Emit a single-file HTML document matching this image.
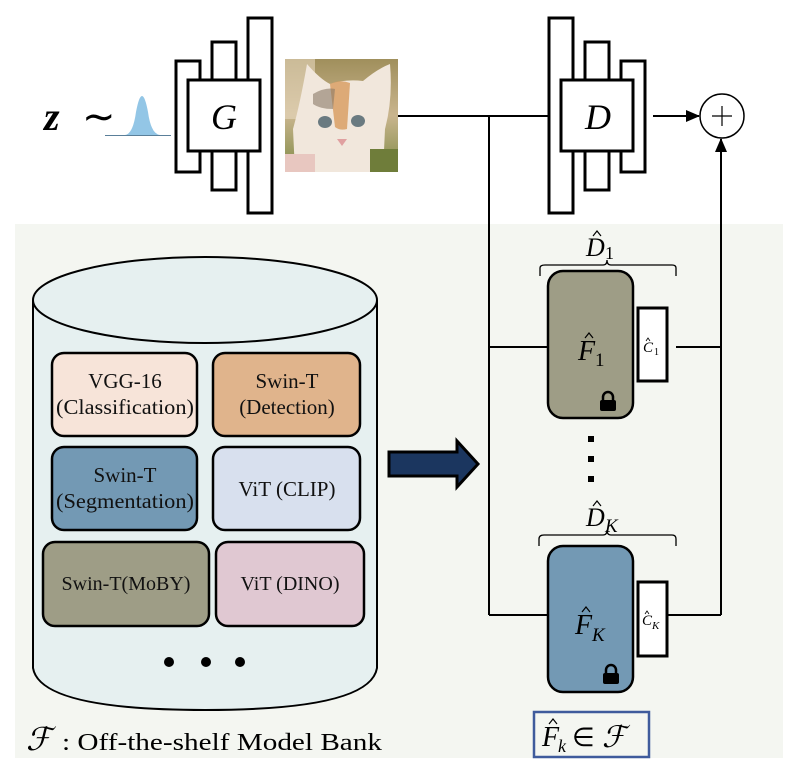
<!DOCTYPE html>
<html><head><meta charset="utf-8"><style>
html,body{margin:0;padding:0;background:#fff;}
svg{display:block}
text{font-family:"Liberation Serif",serif;}
</style></head><body>
<svg width="806" height="782" viewBox="0 0 806 782" xmlns="http://www.w3.org/2000/svg">
<defs>
<linearGradient id="bg" x1="0" y1="0" x2="0" y2="1"><stop offset="0" stop-color="#a08f5c"/><stop offset="0.5" stop-color="#c9b58e"/><stop offset="1" stop-color="#7f8a45"/></linearGradient>
<marker id="ah" markerWidth="14" markerHeight="12" refX="13" refY="6" orient="auto" markerUnits="userSpaceOnUse"><path d="M0,0 L14,6 L0,12 z" fill="#000"/></marker>
</defs>
<rect x="15" y="224" width="768" height="534" fill="#f4f6f1"/>
<text x="44" y="130" font-size="40" font-style="italic" font-weight="bold">z</text>
<text x="82" y="130" font-size="40">∼</text>
<path d="M106,135 L125,135 Q133,134 136,112 Q139,96 142,96 Q145,96 148,112 Q151,134 160,135 L170,135 Z" fill="#93c6e6"/>
<line x1="105" y1="135.5" x2="171" y2="135.5" stroke="#5a7f99" stroke-width="1"/>
<g fill="#fff" stroke="#000" stroke-width="3">
<rect x="176" y="61" width="24" height="111"/>
<rect x="212" y="42" width="24" height="148"/>
<rect x="248" y="18" width="24" height="195"/>
<rect x="188" y="80" width="72" height="71"/>
</g>
<text x="224" y="129" font-size="36" font-style="italic" text-anchor="middle">G</text>
<svg x="285" y="59" width="113" height="113" viewBox="0 0 113 113">
<rect width="113" height="113" fill="url(#bg)"/>
<rect x="0" y="0" width="30" height="60" fill="#e8d9c0" opacity="0.6"/>
<path d="M10,113 L8,70 Q15,45 22,5 Q35,20 45,25 Q60,20 78,22 Q92,10 105,5 Q108,40 100,70 L98,113 Z" fill="#f1e7dc"/>
<path d="M45,25 Q55,20 65,24 L62,70 Q55,72 50,68 Z" fill="#d89b5e" opacity="0.8"/>
<path d="M28,35 Q40,28 50,30 L48,50 Q35,50 28,45Z" fill="#8a7a68" opacity="0.6"/>
<ellipse cx="40" cy="63" rx="7" ry="6" fill="#6a7a80"/>
<ellipse cx="73" cy="62" rx="7" ry="6" fill="#6a7a80"/>
<path d="M52,80 L62,80 L57,87Z" fill="#e0a0a0"/>
<rect x="0" y="95" width="30" height="18" fill="#e8c7c0"/>
<rect x="85" y="90" width="28" height="23" fill="#6f7d3a"/>
</svg>
<g stroke="#000" stroke-width="2" fill="none">
<line x1="398" y1="116" x2="549" y2="116"/>
<line x1="489" y1="116" x2="489" y2="615"/>
<line x1="489" y1="347" x2="547" y2="347"/>
<line x1="489" y1="615" x2="547" y2="615"/>
<line x1="653" y1="116" x2="699" y2="116" marker-end="url(#ah)"/>
<line x1="721" y1="615" x2="721" y2="139" marker-end="url(#ah)"/>
<line x1="676" y1="347" x2="721" y2="347"/>
<line x1="668" y1="615" x2="721" y2="615"/>
</g>
<circle cx="722" cy="116" r="22" fill="#fff" stroke="#000" stroke-width="1.5"/>
<line x1="712" y1="116" x2="732" y2="116" stroke="#000" stroke-width="1.2"/>
<line x1="722" y1="106" x2="722" y2="126" stroke="#000" stroke-width="1.2"/>
<g fill="#fff" stroke="#000" stroke-width="3">
<rect x="621" y="61" width="24" height="111"/>
<rect x="585" y="42" width="24" height="148"/>
<rect x="549" y="18" width="24" height="195"/>
<rect x="561" y="80" width="72" height="71"/>
</g>
<text x="598" y="129" font-size="36" font-style="italic" text-anchor="middle">D</text>
<text x="586" y="256" font-size="26" font-style="italic">D</text>
<path d="M593,236 L597,231 L601,236" fill="none" stroke="#000" stroke-width="1.2"/>
<text x="605" y="259" font-size="18">1</text>
<path d="M540,276 L540,268 Q540,265 545,265 L603,265 Q607,265 607,260 Q607,265 611,265 L672,265 Q676,265 676,268 L676,276" fill="none" stroke="#000" stroke-width="1.3"/>
<rect x="548" y="271" width="85" height="147" rx="15" fill="#9e9d86" stroke="#000" stroke-width="2.5"/>
<text x="578" y="360" font-size="28" font-style="italic">F</text>
<path d="M585,338 L589,333 L593,338" fill="none" stroke="#000" stroke-width="1.2"/>
<text x="595" y="366" font-size="19">1</text>
<rect x="638" y="308" width="29" height="73" fill="#fff" stroke="#000" stroke-width="3"/>
<text x="643" y="352" font-size="15" font-style="italic">C</text>
<path d="M646,341 L648,338 L650,341" fill="none" stroke="#000" stroke-width="0.8"/>
<text x="654" y="355" font-size="10">1</text>
<g fill="#000"><path d="M603,401 v-4 a5,5 0 0 1 10,0 v4" fill="none" stroke="#000" stroke-width="2.5"/><rect x="600" y="400" width="16" height="11" rx="2"/></g>
<rect x="588" y="436" width="6" height="6" fill="#000"/>
<rect x="588" y="456" width="6" height="6" fill="#000"/>
<rect x="588" y="476" width="6" height="6" fill="#000"/>
<text x="586" y="526" font-size="26" font-style="italic">D</text>
<path d="M593,506 L597,501 L601,506" fill="none" stroke="#000" stroke-width="1.2"/>
<text x="605" y="532" font-size="19" font-style="italic">K</text>
<path d="M539,546 L539,539 Q539,535 544,535 L603,535 Q607,535 607,530 Q607,535 611,535 L672,535 Q676,535 676,539 L676,546" fill="none" stroke="#000" stroke-width="1.3"/>
<rect x="548" y="546" width="85" height="146" rx="15" fill="#7399b4" stroke="#000" stroke-width="2.5"/>
<text x="575" y="634" font-size="28" font-style="italic">F</text>
<path d="M582,612 L586,607 L590,612" fill="none" stroke="#000" stroke-width="1.2"/>
<text x="592" y="641" font-size="19" font-style="italic">K</text>
<rect x="638" y="582" width="29" height="74" fill="#fff" stroke="#000" stroke-width="3"/>
<text x="642" y="625" font-size="15" font-style="italic">C</text>
<path d="M645,614 L647,611 L649,614" fill="none" stroke="#000" stroke-width="0.8"/>
<text x="652" y="629" font-size="11" font-style="italic">K</text>
<g fill="#000"><path d="M606,674 v-4 a5,5 0 0 1 10,0 v4" fill="none" stroke="#000" stroke-width="2.5"/><rect x="603" y="673" width="16" height="11" rx="2"/></g>
<rect x="534" y="712" width="115" height="45" fill="none" stroke="#3f5b9c" stroke-width="2.5"/>
<text x="542" y="746" font-size="28" font-style="italic">F</text>
<path d="M549,724 L553,719 L557,724" fill="none" stroke="#000" stroke-width="1.2"/>
<text x="558" y="752" font-size="18" font-style="italic">k</text>
<text x="572" y="746" font-size="26">∈</text>
<text x="602" y="747" font-size="30" font-style="italic">ℱ</text>
<path d="M389,452 L457,452 L457,441 L478,464 L457,487 L457,476 L389,476 Z" fill="#1b365f" stroke="#000" stroke-width="3"/>
<path d="M33,300 L33,668 Q40,710 205,710 Q370,710 377,668 L377,300" fill="#e6f0f0" stroke="#000" stroke-width="2"/>
<ellipse cx="205" cy="300" rx="172" ry="43" fill="#e6f0f0" stroke="#000" stroke-width="2"/>
<g stroke="#000" stroke-width="2.5">
<rect x="52" y="353" width="145" height="83" rx="12" fill="#f7e4d9"/>
<rect x="213" y="353" width="147" height="83" rx="12" fill="#e0b48c"/>
<rect x="52" y="447" width="145" height="83" rx="12" fill="#7399b4"/>
<rect x="213" y="447" width="147" height="83" rx="12" fill="#d8e0ee"/>
<rect x="43" y="542" width="166" height="84" rx="12" fill="#9e9d86"/>
<rect x="216" y="542" width="148" height="84" rx="12" fill="#e0c8d2"/>
</g>
<g font-size="21" text-anchor="middle" fill="#111">
<text x="125" y="388">VGG-16</text><text x="125" y="414" textLength="138" lengthAdjust="spacingAndGlyphs">(Classification)</text>
<text x="287" y="388">Swin-T</text><text x="287" y="414">(Detection)</text>
<text x="125" y="482">Swin-T</text><text x="125" y="508" textLength="138" lengthAdjust="spacingAndGlyphs">(Segmentation)</text>
<text x="287" y="496">ViT (CLIP)</text>
<text x="126" y="590" font-size="20">Swin-T(MoBY)</text>
<text x="290" y="590" font-size="20">ViT (DINO)</text>
</g>
<circle cx="169" cy="662" r="5" fill="#000"/><circle cx="206" cy="662" r="5" fill="#000"/><circle cx="240" cy="662" r="5" fill="#000"/>
<text x="26" y="750" font-size="32" font-style="italic">ℱ</text>
<text x="62" y="750" font-size="24" textLength="320" lengthAdjust="spacingAndGlyphs">: Off-the-shelf Model Bank</text>
</svg>
</body></html>
